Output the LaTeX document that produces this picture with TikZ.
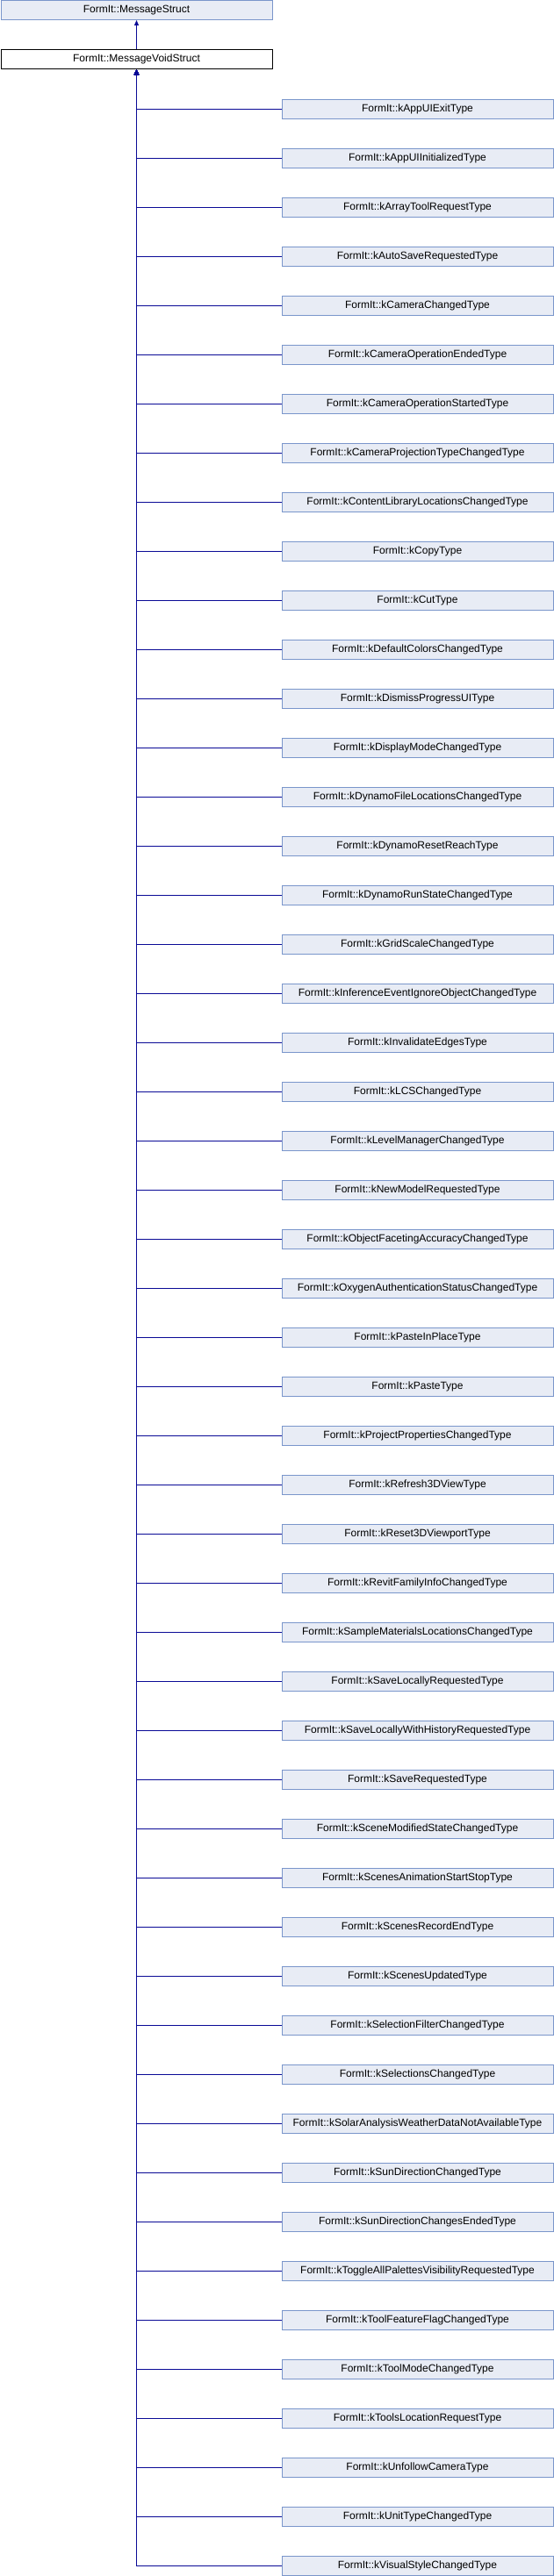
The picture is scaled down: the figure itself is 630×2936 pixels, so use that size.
\documentclass[tikz,border=0pt]{standalone}
\usepackage{fontspec}
\setmainfont{Liberation Sans}
\usetikzlibrary{arrows.meta}
\definecolor{boxfill}{HTML}{E8ECF5}
\definecolor{boxline}{HTML}{7A96CB}
\definecolor{edgecol}{HTML}{0A0A96}
\begin{document}
\begin{tikzpicture}[x=1pt,y=-1pt,
  cls/.style={draw=boxline, fill=boxfill, line width=1pt, minimum width=309pt,
    minimum height=22pt, inner sep=0pt, anchor=west,
    font=\fontsize{12}{14}\selectfont},
  focus/.style={cls, draw=black, fill=white},
  edge/.style={draw=edgecol, line width=1pt, -{Triangle[length=6pt,width=5pt]}}]
\useasboundingbox (0,0) rectangle (630,2936);
\node[cls] (ms) at (0.5,11.5) {FormIt::MessageStruct};
\node[focus] (vs) at (0.5,67.5) {FormIt::MessageVoidStruct};
\draw[edge] (vs.north) -- (ms.south);
\foreach \t [count=\i from 0] in {kAppUIExitType,kAppUIInitializedType,kArrayToolRequestType,kAutoSaveRequestedType,kCameraChangedType,kCameraOperationEndedType,kCameraOperationStartedType,kCameraProjectionTypeChangedType,kContentLibraryLocationsChangedType,kCopyType,kCutType,kDefaultColorsChangedType,kDismissProgressUIType,kDisplayModeChangedType,kDynamoFileLocationsChangedType,kDynamoResetReachType,kDynamoRunStateChangedType,kGridScaleChangedType,kInferenceEventIgnoreObjectChangedType,kInvalidateEdgesType,kLCSChangedType,kLevelManagerChangedType,kNewModelRequestedType,kObjectFacetingAccuracyChangedType,kOxygenAuthenticationStatusChangedType,kPasteInPlaceType,kPasteType,kProjectPropertiesChangedType,kRefresh3DViewType,kReset3DViewportType,kRevitFamilyInfoChangedType,kSampleMaterialsLocationsChangedType,kSaveLocallyRequestedType,kSaveLocallyWithHistoryRequestedType,kSaveRequestedType,kSceneModifiedStateChangedType,kScenesAnimationStartStopType,kScenesRecordEndType,kScenesUpdatedType,kSelectionFilterChangedType,kSelectionsChangedType,kSolarAnalysisWeatherDataNotAvailableType,kSunDirectionChangedType,kSunDirectionChangesEndedType,kToggleAllPalettesVisibilityRequestedType,kToolFeatureFlagChangedType,kToolModeChangedType,kToolsLocationRequestType,kUnfollowCameraType,kUnitTypeChangedType,kVisualStyleChangedType}{
  \node[cls] (c\i) at (320.5,{124+56*\i}) {FormIt::\t};
  \draw[edge] (c\i.west) -| (vs.south);
}
\end{tikzpicture}
\end{document}
